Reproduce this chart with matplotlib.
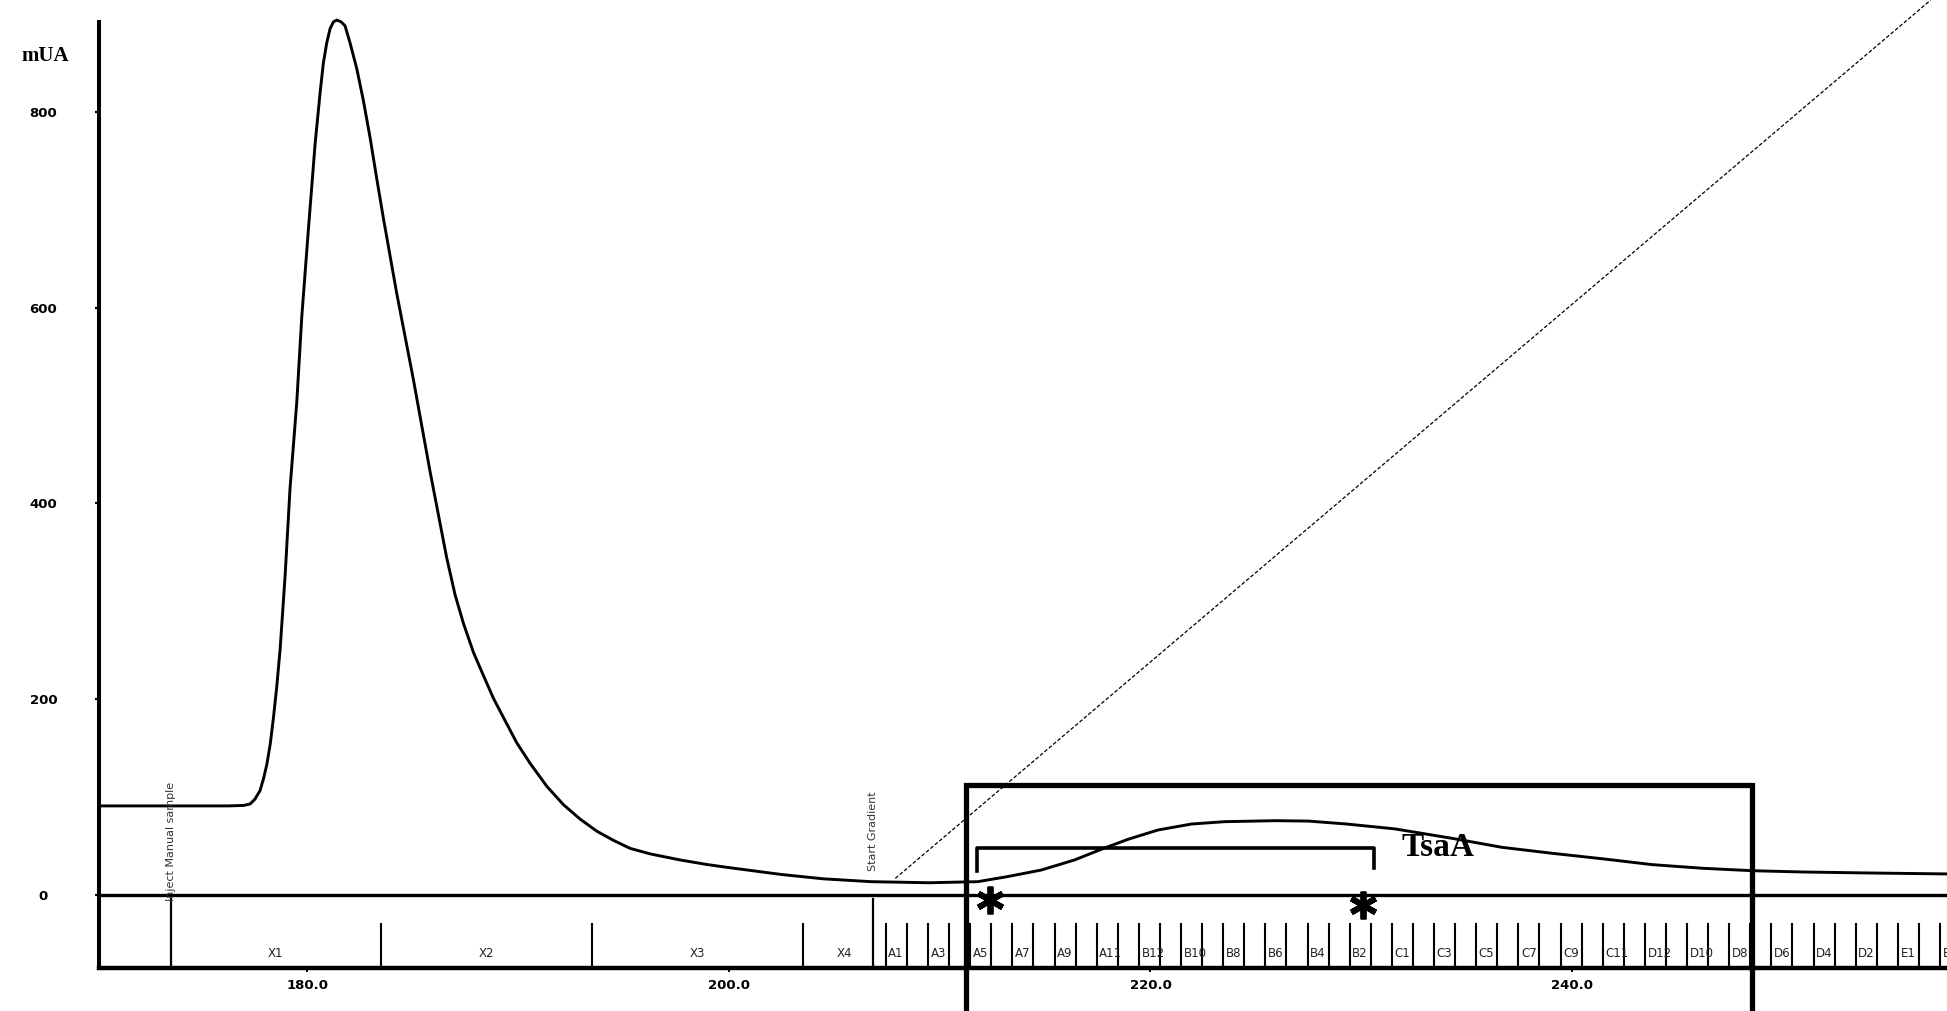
import matplotlib
matplotlib.use("Agg")
import matplotlib.pyplot as plt

# ---------------- data ----------------
# UV absorbance trace (mUA) vs volume (ml)
uv_x = [170.2, 174.0, 176.3, 177.0, 177.30, 177.53, 177.77, 177.93, 178.09, 178.25,
        178.40, 178.56, 178.72, 178.96, 179.19, 179.51, 179.75, 180.06, 180.38, 180.62,
        180.77, 180.93, 181.09, 181.25, 181.41, 181.61, 181.80, 182.04, 182.36, 182.67,
        182.99, 183.30, 183.62, 184.25, 185.04, 185.83, 186.62, 187.02, 187.42, 187.89,
        188.36, 188.84, 189.31, 189.94, 190.58, 191.37, 192.16, 192.95, 193.74, 194.53,
        195.32, 196.27, 197.69, 199.0, 200.0, 202.47, 204.49, 206.75, 209.5, 211.81,
        213.2, 214.82, 216.4, 217.67, 218.94, 220.36, 221.95, 223.53, 225.91, 227.49,
        229.3, 231.6, 234.3, 236.67, 239.05, 241.43, 243.8, 246.18, 248.55, 250.93,
        254.0, 257.8]
uv_y = [91, 91, 91, 91.5, 93, 98, 106.8, 118.6, 133.3, 153.9,
        180.3, 212.6, 250.8, 327.1, 415.1, 503.2, 591.3, 679.4, 767.4, 820.2,
        849.6, 870.2, 884.9, 891.9, 893.7, 891.9, 887.8, 870.2, 843.7, 811.4,
        773.3, 732.2, 691.1, 614.7, 526.7, 432.8, 344.6, 306.5, 277.1, 247.8,
        224.3, 200.8, 181.4, 155.6, 134.4, 111.0, 92.2, 77.5, 65.2, 55.8,
        47.6, 42, 35.8, 31, 28, 21, 16.5, 13.6, 12.5, 13.6,
        18.7, 25.5, 35.8, 46.7, 56.9, 66.4, 72.5, 74.9, 75.9, 75.5,
        72.5, 67.5, 57.9, 48.7, 42.6, 37, 31, 27.3, 24.8, 23.5,
        22.5, 21.5]

# gradient (dashed) line end points
grad_x = [207.9, 257.0]
grad_y = [17, 914]

# y ticks / x ticks
y_ticks = [0, 200, 400, 600, 800]
y_minor = [100, 300, 500, 700]
x_ticks = [180, 200, 220, 240]
x_tick_labels = ["180.0", "200.0", "220.0", "240.0"]

# large fractions (X) and their labels
x_frac_bounds = [183.5, 193.5, 203.5]
x_frac_label_pos = [178.5, 188.5, 198.5, 205.5]
x_frac_labels = ["X1", "X2", "X3", "X4"]

# 1 ml fraction boundaries
frac_bounds = [207.45, 208.45, 209.45, 210.45, 211.45, 212.45, 213.45, 214.45, 215.45,
               216.45, 217.45, 218.45, 219.45, 220.45, 221.45, 222.45, 223.45, 224.45,
               225.45, 226.45, 227.45, 228.45, 229.45, 230.45, 231.45, 232.45, 233.45,
               234.45, 235.45, 236.45, 237.45, 238.45, 239.45, 240.45, 241.45, 242.45,
               243.45, 244.45, 245.45, 246.45, 247.45, 248.45, 249.45, 250.45, 251.45,
               252.45, 253.45, 254.45, 255.45, 256.45, 257.45]
# labels printed (every second fraction)
frac_labels = ["A1", "A3", "A5", "A7", "A9", "A11", "B12", "B10", "B8", "B6", "B4", "B2",
               "C1", "C3", "C5", "C7", "C9", "C11", "D12", "D10", "D8", "D6", "D4", "D2",
               "E1", "E3"]

# events
event_x = [173.55, 206.85]
event_text = ["Inject Manual sample", "Start Gradient"]
event_text_y = [-6, 24]

# annotations
box_x = [211.24, 248.53]
box_top = 112
bracket_x = [211.75, 230.6]
bracket_y = [48, 24, 27.5]   # top, left leg end, right leg end
star_x = [212.4, 230.1]
star_y = [-5, -10]
tsaa_pos = (233.65, 48)

# ---------------- figure ----------------
W, H = 1947, 1011
fig = plt.figure(figsize=(W / 100, H / 100), dpi=100)
ax = fig.add_axes([99 / W, 0, 1 - 99 / W, 1])
ax.set_xlim(170.13, 257.78)
ax.set_ylim(-118.5, 914.2)
axis_bottom = -74.6

for s in ("top", "right"):
    ax.spines[s].set_visible(False)
ax.spines["left"].set_linewidth(2.9)
ax.spines["left"].set_bounds(axis_bottom, 892)
ax.spines["bottom"].set_linewidth(3.2)
ax.spines["bottom"].set_position(("data", axis_bottom))

ax.set_yticks(y_ticks)
ax.set_yticks(y_minor, minor=True)
ax.set_yticklabels([str(v) for v in y_ticks])
ax.tick_params(axis="y", which="major", length=3, width=1.6, pad=37)
ax.tick_params(axis="y", which="minor", length=1.5, width=1.0)
for lbl in ax.get_yticklabels():
    lbl.set_horizontalalignment("center")
    lbl.set_fontfamily("DejaVu Sans")
    lbl.set_fontweight("bold")
    lbl.set_fontsize(9.5)

ax.set_xticks(x_ticks)
ax.set_xticklabels(x_tick_labels)
ax.tick_params(axis="x", length=3, width=1.4, pad=5)
for lbl in ax.get_xticklabels():
    lbl.set_fontfamily("DejaVu Sans")
    lbl.set_fontweight("bold")
    lbl.set_fontsize(9.5)

fig.text(45 / W, 1 - 56 / H, "mUA", family="Liberation Serif", weight="bold",
         fontsize=15, ha="center", va="center")

# zero line
ax.axhline(0, color="black", lw=2.4)

# UV trace
ax.plot(uv_x, uv_y, color="black", lw=2.1, solid_joinstyle="round")

# gradient line
ax.plot(grad_x, grad_y, color="black", lw=0.9, linestyle=(0, (3, 1.6)))

# fraction marks
frac_top = -30
for xb in x_frac_bounds + frac_bounds:
    ax.plot([xb, xb], [axis_bottom, frac_top], color="black", lw=1.5)
for xp, t in zip(x_frac_label_pos, x_frac_labels):
    ax.text(xp, -60, t, ha="center", va="center", fontsize=8.5,
            family="DejaVu Sans", color="#222222")
for xb, t in zip(frac_bounds[::2], frac_labels):
    ax.text(xb + 0.12, -60, t, ha="left", va="center", fontsize=8.5,
            family="DejaVu Sans", color="#222222", clip_on=True)

# event marks
for xe, t, ty in zip(event_x, event_text, event_text_y):
    ax.plot([xe, xe], [axis_bottom, -4], color="black", lw=1.6)
    ax.text(xe, ty, t, rotation=90, ha="center", va="bottom", fontsize=8,
            family="DejaVu Sans", color="#333333")

# highlight box
ax.plot([box_x[0], box_x[0], box_x[1], box_x[1]], [-140, box_top, box_top, -140],
        color="black", lw=3.8, clip_on=False, solid_joinstyle="miter")

# bracket
ax.plot([bracket_x[0], bracket_x[0], bracket_x[1], bracket_x[1]],
        [bracket_y[1], bracket_y[0], bracket_y[0], bracket_y[2]],
        color="black", lw=2.6)

# asterisks
ax.plot(star_x, star_y, linestyle="none", marker=(6, 2, 0), markersize=20,
        markeredgewidth=4.2, color="black")

ax.text(tsaa_pos[0], tsaa_pos[1], "TsaA", family="Liberation Serif", weight="bold",
        fontsize=24, ha="center", va="center")

fig.savefig("out.png", dpi=100)
